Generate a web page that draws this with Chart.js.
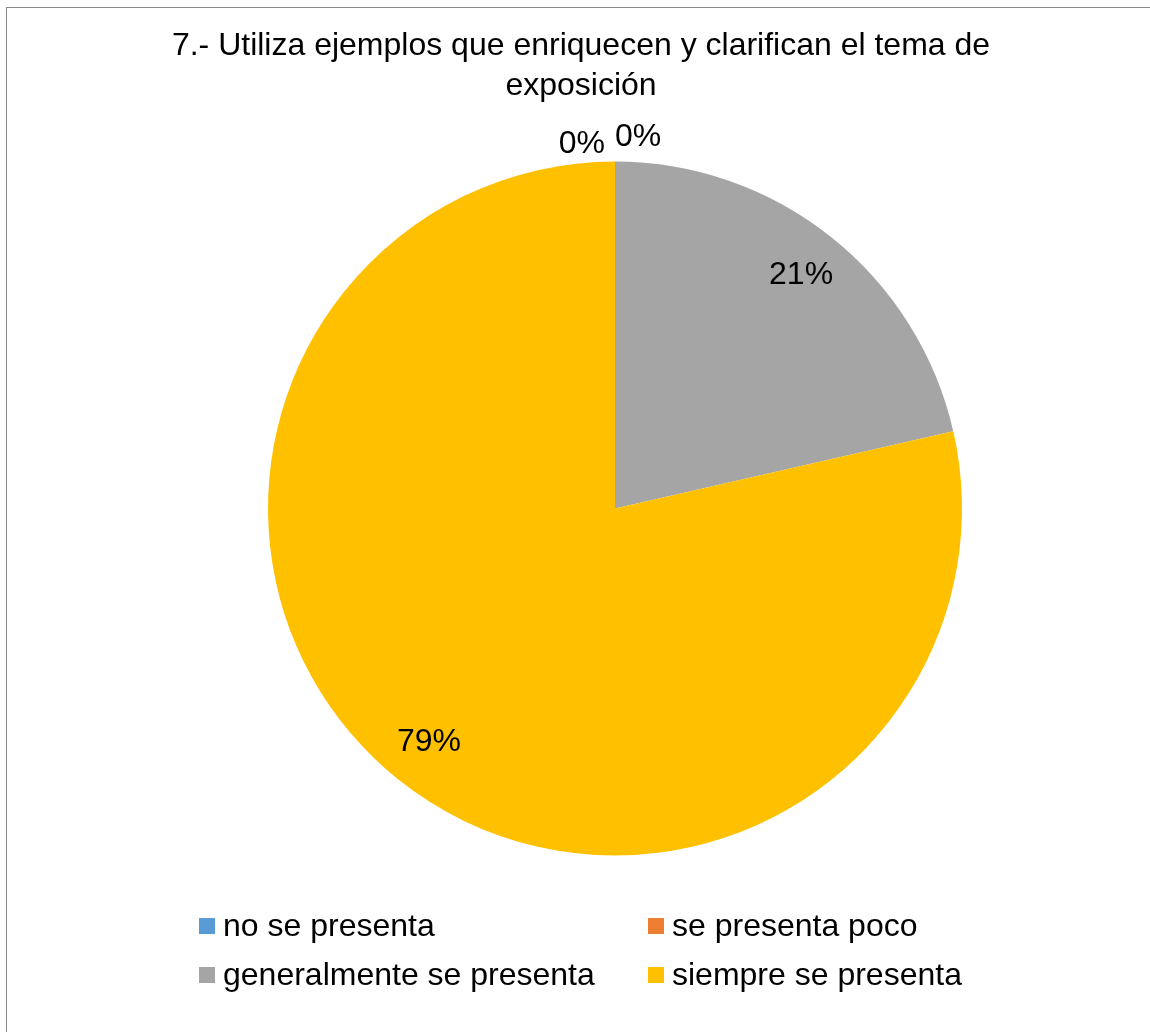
<!DOCTYPE html>
<html>
<head>
<meta charset="utf-8">
<script src="https://cdn.jsdelivr.net/npm/chart.js@4"></script>
<style>
    body { margin: 0; background: #fff; overflow: hidden; }
    #wrap { position: relative; width: 1150px; height: 1032px; }
    #frame { position: absolute; left: 6px; top: 7px; width: 1200px; height: 1100px; border: 1px solid #898989; }
    canvas { position: absolute; left: 0; top: 0; }
</style>
</head>
<body>
<div id="wrap">
    <div id="frame"></div>
    <canvas id="myChart" width="1150" height="1032"></canvas>
</div>
<script>
const chart = document.getElementById('myChart');

const titleLines = ["7.- Utiliza ejemplos que enriquecen y clarifican el tema de", "exposición"];
const categories = ["no se presenta", "se presenta poco", "generalmente se presenta", "siempre se presenta"];
// answer counts, the slice angles point to 3 of 14 (21%) and 11 of 14 (79%)
const values = [0, 0, 3, 11];
const colors = ["#5B9BD5", "#ED7D31", "#A5A5A5", "#FFC000"];

const font = '32px "Liberation Sans", Arial, sans-serif';

// title, percentage labels and the 2-column legend are drawn by hand
const extras = {
    id: 'extras',
    afterDraw(c) {
        const ctx = c.ctx;
        ctx.save();
        ctx.font = font;
        ctx.fillStyle = '#000';
        ctx.textBaseline = 'middle';
        ctx.textAlign = 'center';

        // title
        ctx.fillText(titleLines[0], 581, 46);
        ctx.fillText(titleLines[1], 581, 86);

        // percentage labels
        const total = values.reduce((a, b) => a + b, 0);
        const arcs = c.getDatasetMeta(0).data;
        let zeroCount = 0;
        arcs.forEach((arc, i) => {
            const v = values[i];
            const txt = Math.round(v / total * 100) + '%';
            const p = arc.getProps(['x', 'y', 'startAngle', 'endAngle', 'outerRadius']);
            const mid = (p.startAngle + p.endAngle) / 2;
            if (v === 0) {
                const w = ctx.measureText(txt).width;
                const dx = zeroCount === 0 ? -(w / 2 + 10) : (w / 2);
                const dy = zeroCount === 0 ? -17 : -24;
                ctx.fillText(txt, p.x + dx, p.y - p.outerRadius + dy);
                zeroCount++;
            } else {
                const r = p.outerRadius * 0.86;
                ctx.fillText(txt, p.x + Math.cos(mid) * r, p.y + Math.sin(mid) * r);
            }
        });

        // legend
        const cols = [199, 648];
        const rows = [926, 975];
        ctx.textAlign = 'left';
        categories.forEach((lab, i) => {
            const x = cols[i % 2];
            const y = rows[Math.floor(i / 2)];
            ctx.fillStyle = colors[i];
            ctx.fillRect(x, y - 8, 16, 16);
            ctx.fillStyle = '#000';
            ctx.fillText(lab, x + 24, y + 1);
        });
        ctx.restore();
    }
};

new Chart(chart, {
    type: 'pie',
    data: {
        labels: categories,
        datasets: [{
            data: values,
            backgroundColor: colors,
            borderWidth: 0,
        }]
    },
    options: {
        responsive: false,
        animation: false,
        layout: {
            padding: { top: 161, bottom: 176, left: 268, right: 188 }
        },
        plugins: {
            legend: { display: false },
            title: { display: false },
            tooltip: { enabled: false },
        },
    },
    plugins: [extras],
});
</script>
</body>
</html>
